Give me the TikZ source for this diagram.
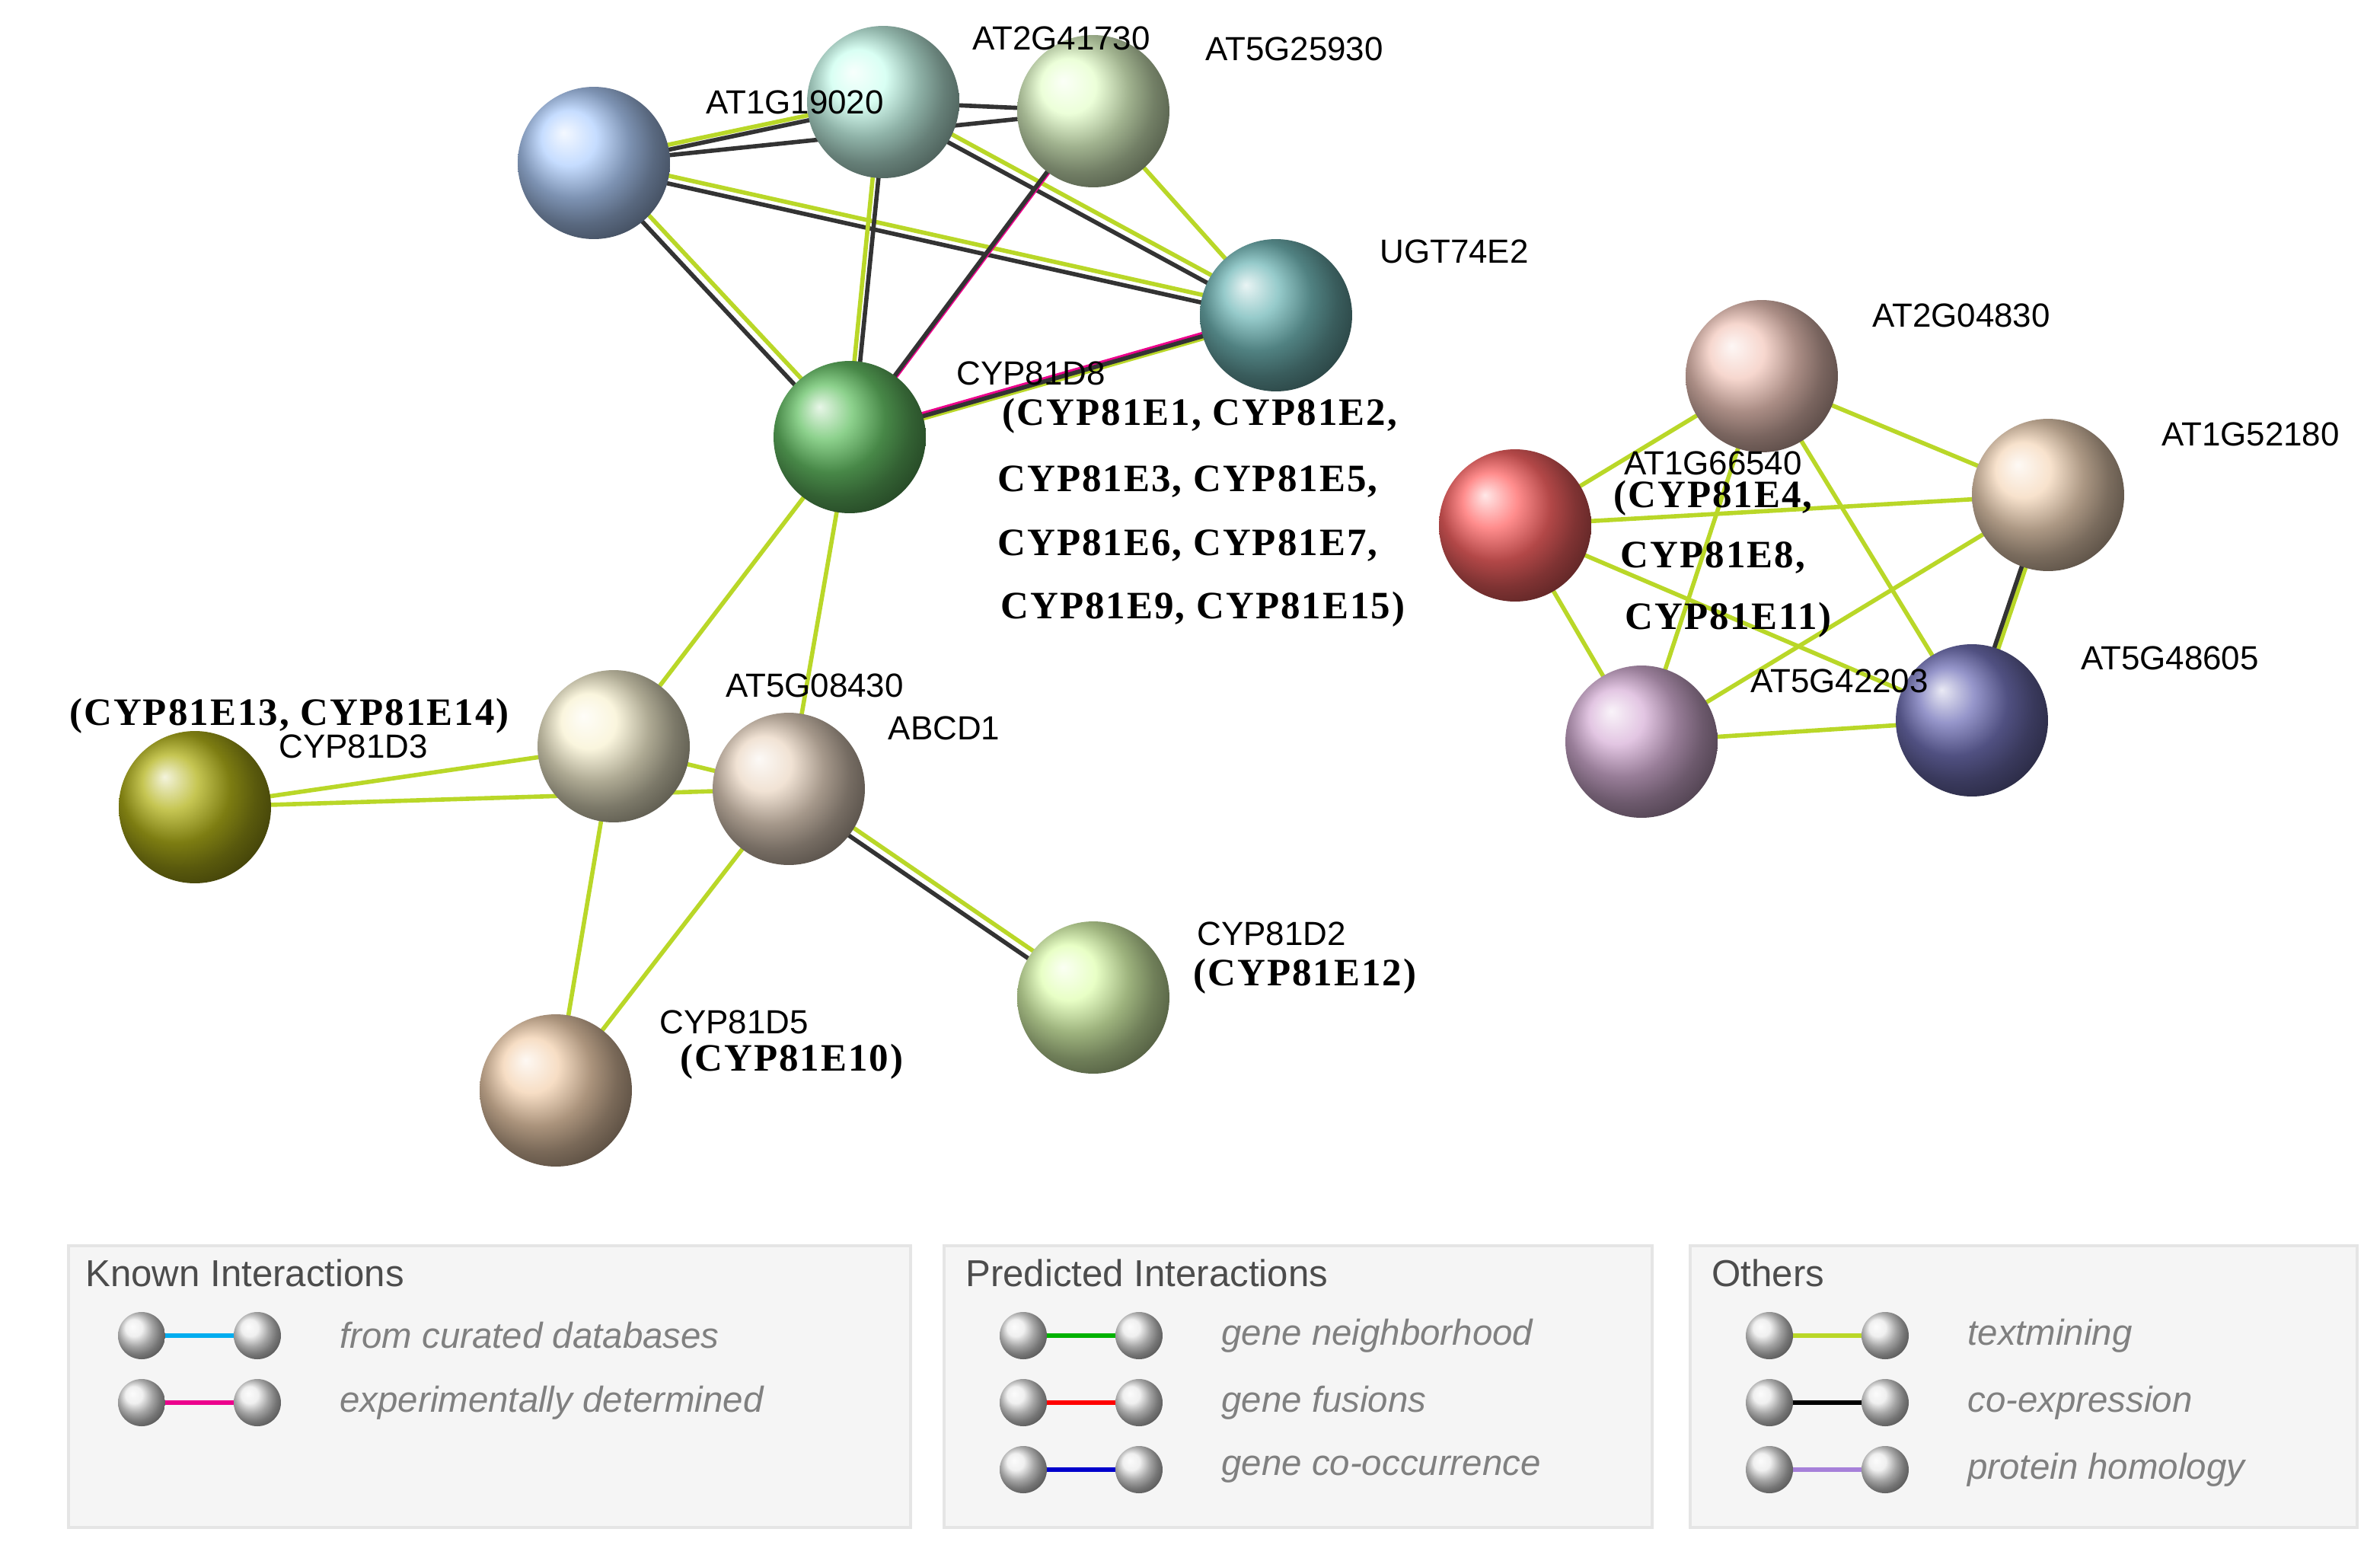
\documentclass[tikz,border=0pt]{standalone}
\usepackage{fontspec}
\setmainfont{Liberation Sans}
\newfontfamily\ser[LetterSpace=4]{Liberation Serif}
\definecolor{tmc}{RGB}{185,215,40}
\begin{document}
\begin{tikzpicture}[x=0.02cm,y=-0.02cm,
 ball/.style={circle,minimum size=2cm,inner sep=0pt,shading=ball},
 lab/.style={font=\fontsize{12.5}{14}\selectfont,anchor=center},
 slab/.style={font=\ser\bfseries\fontsize{14.5}{16}\selectfont,anchor=center},
 tm/.style={draw=tmc,line width=1.6pt},
 ce/.style={draw=black!80,line width=1.6pt},
 ex/.style={draw=magenta,line width=1.6pt},
 sA/.style={transform canvas={xshift=1.2pt,yshift=1.2pt}},
 sB/.style={transform canvas={xshift=-1.2pt,yshift=-1.2pt}},
 lg/.style={font=\itshape\fontsize{13.5}{15}\selectfont,text=black!50,anchor=west},
 lt/.style={font=\fontsize{14}{16}\selectfont,text=black!70,anchor=west},
 box/.style={fill=black!4,draw=black!10,line width=1pt}]
\useasboundingbox (0,0) rectangle (1563,1025);
\coordinate (pA) at (390,107); \coordinate (pB) at (580,67); \coordinate (pC) at (718,73);
\coordinate (pD) at (838,207); \coordinate (pE) at (558,287); \coordinate (pF) at (403,490);
\coordinate (pG) at (518,518); \coordinate (pH) at (128,530); \coordinate (pI) at (718,655);
\coordinate (pJ) at (365,716); \coordinate (pK) at (1157,247); \coordinate (pL) at (1345,325);
\coordinate (pM) at (995,345); \coordinate (pN) at (1078,487); \coordinate (pO) at (1295,473);
\draw[tm,sA] (pA)--(pB); \draw[ce,sB] (pA)--(pB);
\draw[ce] (pA)--(pC);
\draw[tm,sA] (pA)--(pD); \draw[ce,sB] (pA)--(pD);
\draw[tm,sA] (pA)--(pE); \draw[ce,sB] (pA)--(pE);
\draw[ce] (pB)--(pC);
\draw[tm,sA] (pB)--(pD); \draw[ce,sB] (pB)--(pD);
\draw[tm,sB] (pB)--(pE); \draw[ce,sA] (pB)--(pE);
\draw[ex,sA] (pC)--(pE); \draw[ce,sB] (pC)--(pE);
\draw[tm] (pC)--(pD);
\draw[ex,sA] (pD)--(pE); \draw[tm,sB] (pD)--(pE); \draw[ce] (pD)--(pE);
\draw[tm] (pE)--(pF); \draw[tm] (pE)--(pG);
\draw[tm] (pF)--(pH); \draw[tm] (pG)--(pH); \draw[tm] (pF)--(pG);
\draw[tm] (pF)--(pJ); \draw[tm] (pG)--(pJ);
\draw[tm,sA] (pG)--(pI); \draw[ce,sB] (pG)--(pI);
\draw[tm] (pM)--(pK); \draw[tm] (pM)--(pL); \draw[tm] (pM)--(pN); \draw[tm] (pM)--(pO);
\draw[tm] (pK)--(pL); \draw[tm] (pK)--(pN); \draw[tm] (pK)--(pO);
\draw[tm] (pL)--(pN); \draw[tm,sA] (pL)--(pO); \draw[ce,sB] (pL)--(pO); \draw[tm] (pN)--(pO);
\node[ball,ball color=cyan!40!blue!30] (A) at (pA) {};
\node[ball,ball color=green!30!cyan!20] (B) at (pB) {};
\node[ball,ball color=yellow!50!green!20] (C) at (pC) {};
\node[ball,ball color=teal!55] (D) at (pD) {};
\node[ball,ball color=green!60!black!60] (E) at (pE) {};
\node[ball,ball color=yellow!50!brown!20] (F) at (pF) {};
\node[ball,ball color=brown!30] (G) at (pG) {};
\node[ball,ball color=olive!60] (H) at (pH) {};
\node[ball,ball color=green!40!yellow!30] (I) at (pI) {};
\node[ball,ball color=brown!50!orange!35] (J) at (pJ) {};
\node[ball,ball color=red!40!brown!30] (K) at (pK) {};
\node[ball,ball color=brown!50!orange!30] (L) at (pL) {};
\node[ball,ball color=red!60] (M) at (pM) {};
\node[ball,ball color=violet!30] (N) at (pN) {};
\node[ball,ball color=blue!50!black!55] (O) at (pO) {};
\node[lab] (lA) at (522,67) {AT1G19020};
\node[lab] (lB) at (697,25) {AT2G41730};
\node[lab] (lC) at (850,32) {AT5G25930};
\node[lab] (lD) at (955,165) {UGT74E2};
\node[lab] (lE) at (677,245) {CYP81D8};
\node[slab] (lE1) at (788,273) {(CYP81E1, CYP81E2,};
\node[slab] (lE2) at (780,316) {CYP81E3, CYP81E5,};
\node[slab] (lE3) at (780,358) {CYP81E6, CYP81E7,};
\node[slab] (lE4) at (790,400) {CYP81E9, CYP81E15)};
\node[lab] (lF) at (535,450) {AT5G08430};
\node[lab] (lG) at (620,478) {ABCD1};
\node[slab] (lH1) at (190,470) {(CYP81E13, CYP81E14)};
\node[lab] (lH) at (232,490) {CYP81D3};
\node[lab] (lI) at (835,613) {CYP81D2};
\node[slab] (lI1) at (857,641) {(CYP81E12)};
\node[lab] (lJ) at (482,671) {CYP81D5};
\node[slab] (lJ1) at (520,697) {(CYP81E10)};
\node[lab] (lK) at (1288,207) {AT2G04830};
\node[lab] (lL) at (1478,285) {AT1G52180};
\node[lab] (lM) at (1125,304) {AT1G66540};
\node[slab] (lM1) at (1125,327) {(CYP81E4,};
\node[slab] (lM2) at (1125,366) {CYP81E8,};
\node[slab] (lM3) at (1135,407) {CYP81E11)};
\node[lab] (lN) at (1208,447) {AT5G42203};
\node[lab] (lO) at (1425,432) {AT5G48605};
\draw[box] (45,818) rectangle (598,1003);
\draw[box] (620,818) rectangle (1085,1003);
\draw[box] (1110,818) rectangle (1548,1003);
\node[lt] (t1) at (50,836) {Known Interactions};
\node[lt] (t2) at (628,836) {Predicted Interactions};
\node[lt] (t3) at (1118,836) {Others};
\foreach \x/\y/\c/\t/\n in {93/877/cyan/from curated databases/a,93/921/magenta/experimentally determined/b,
 672/877/green!70!black/gene neighborhood/c,672/921/red/gene fusions/d,672/965/blue!80!black/gene co-occurrence/e,
 1162/877/tmc/textmining/f,1162/921/black/co-expression/g,1162/965/blue!40!violet!50/protein homology/h}{
 \coordinate (l\n) at (\x,\y); \coordinate (r\n) at (\x+76,\y);
 \draw[draw=\c,line width=1.8pt] (l\n)--(r\n);
 \node[circle,minimum size=0.62cm,inner sep=0pt,shading=ball,ball color=black!8] at (l\n) {};
 \node[circle,minimum size=0.62cm,inner sep=0pt,shading=ball,ball color=black!8] at (r\n) {};
 \node[lg] at (\x+124,\y) {\t};}
\end{tikzpicture}
\end{document}
